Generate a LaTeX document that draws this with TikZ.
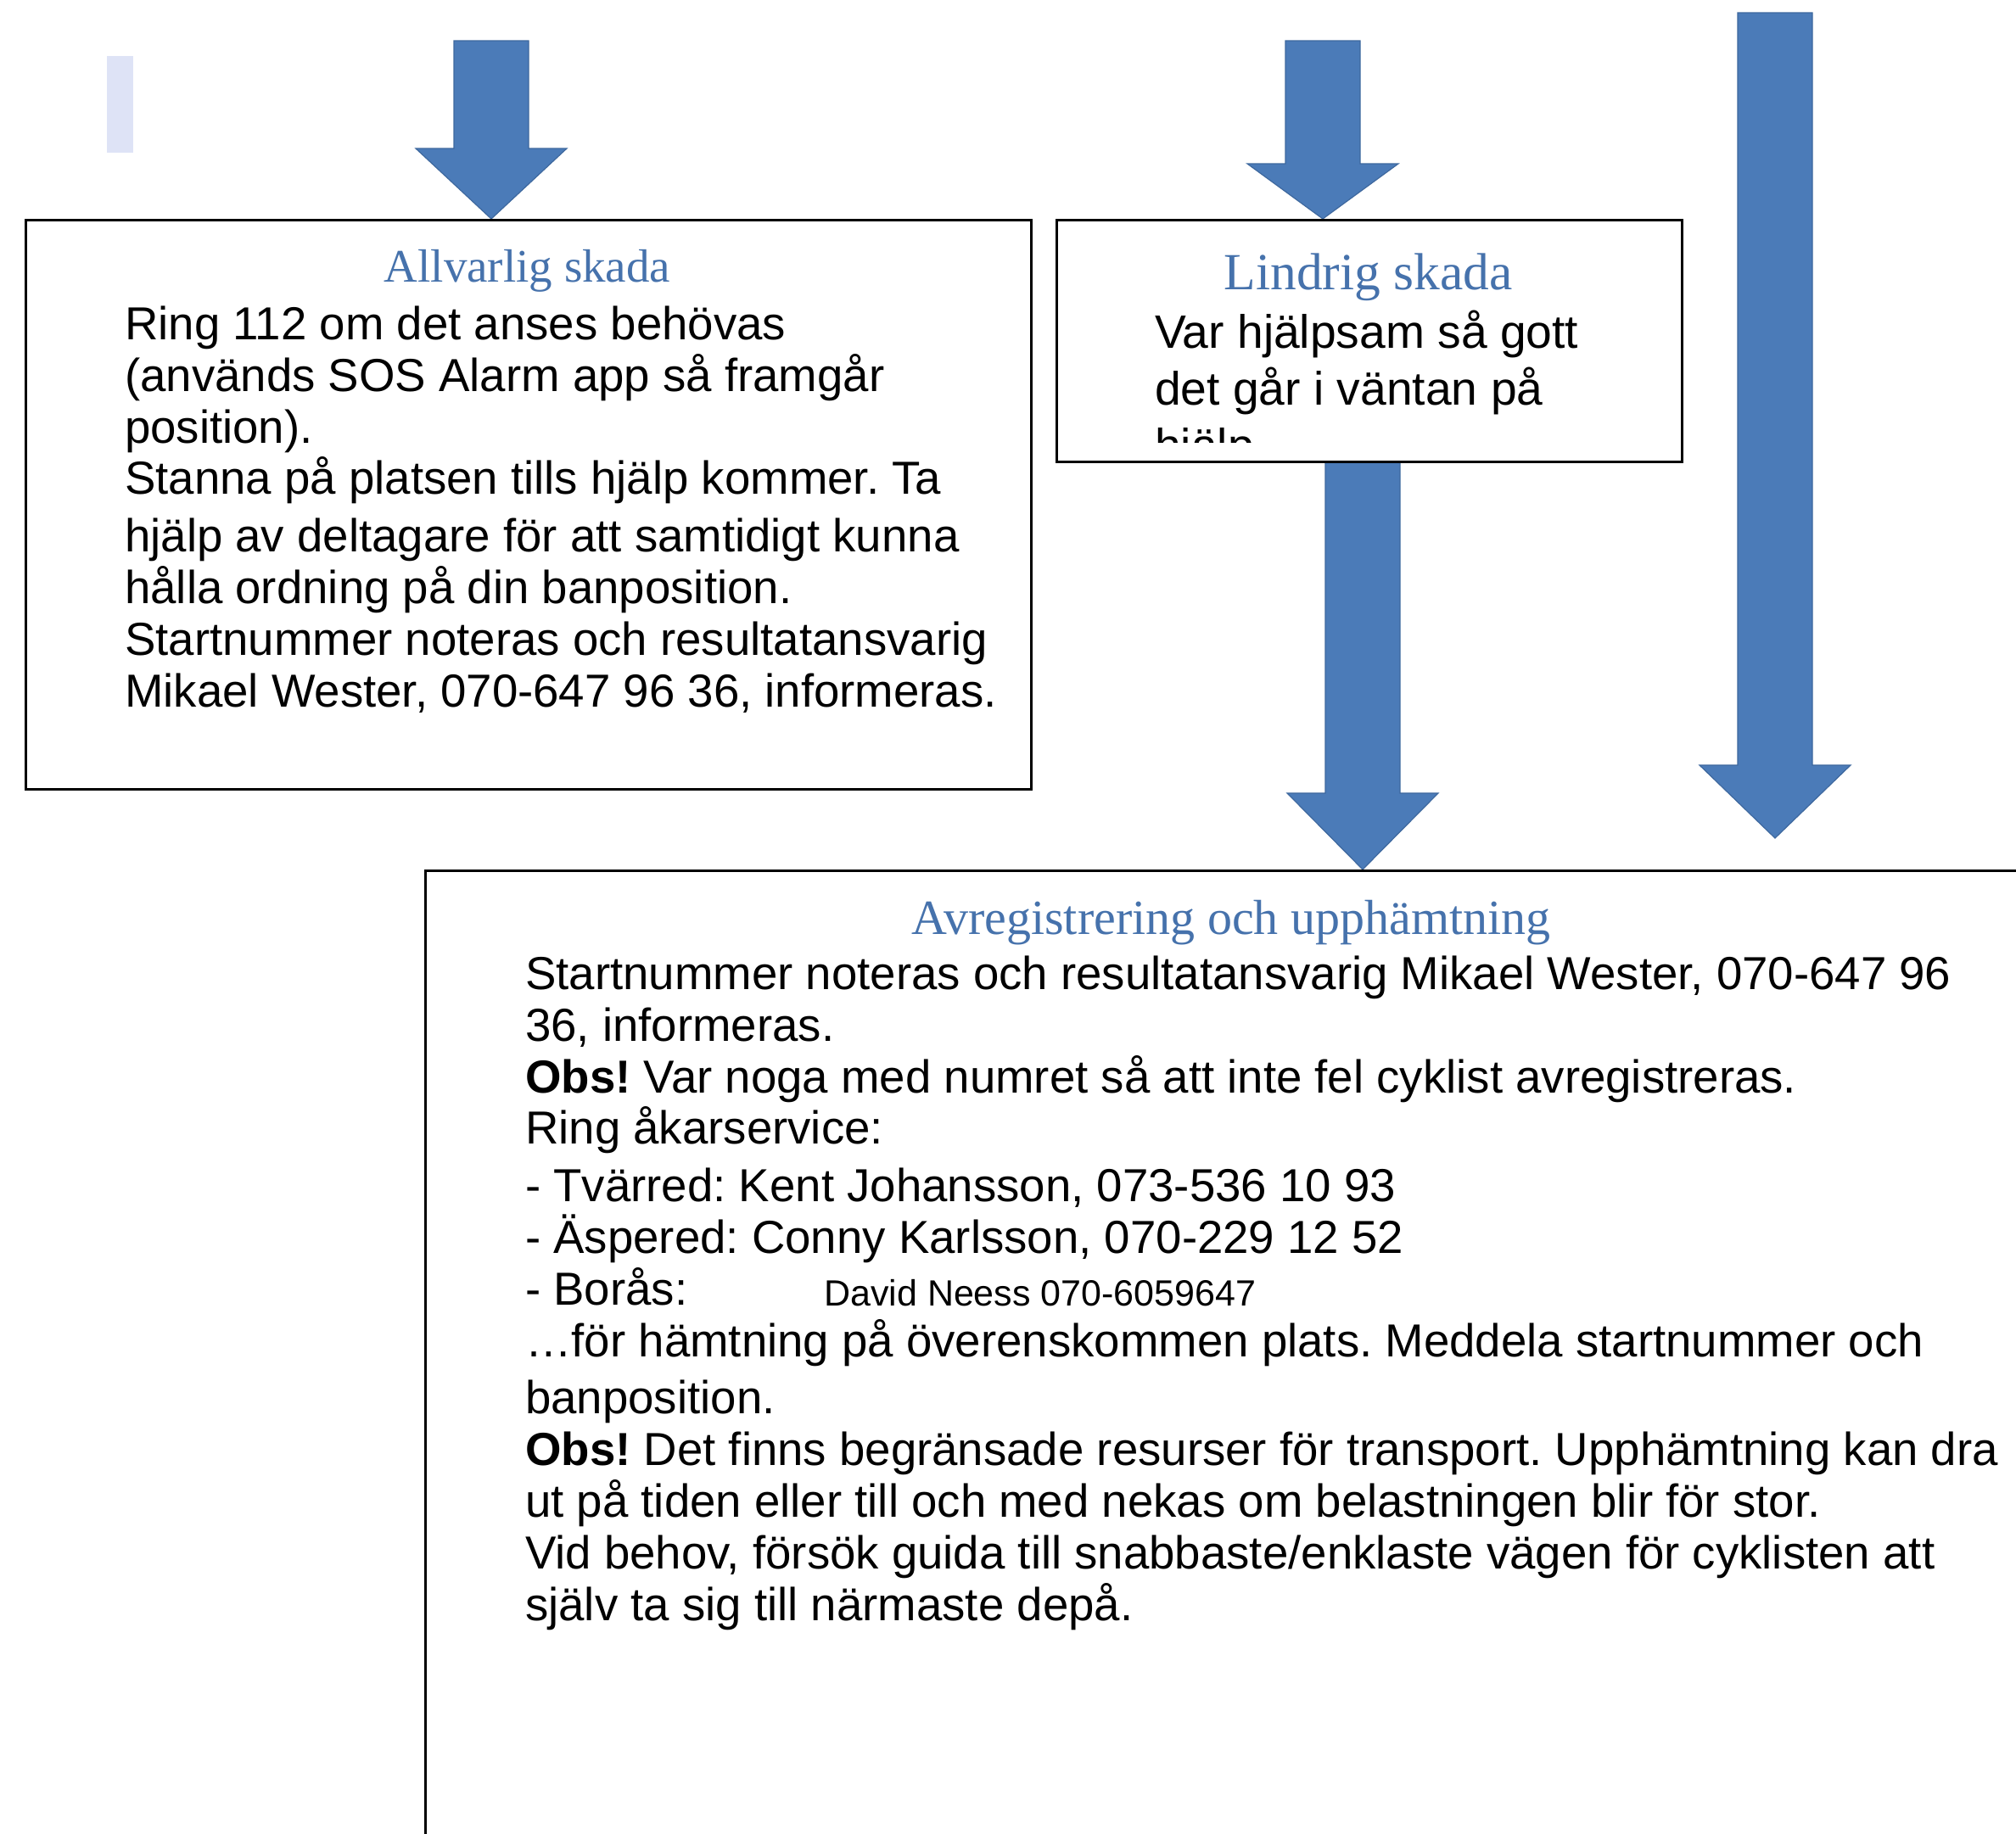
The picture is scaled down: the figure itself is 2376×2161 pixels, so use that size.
\documentclass[tikz,border=0pt]{standalone}
\usepackage{fontspec}
\setmainfont{Liberation Sans}
\newfontfamily\titlefont{Liberation Serif}
\usetikzlibrary{calc,backgrounds}
\frenchspacing
\definecolor{arrowblue}{RGB}{75,123,184}
\definecolor{arrowedge}{RGB}{62,104,158}
\definecolor{titleblue}{RGB}{70,114,172}
\definecolor{ghost}{RGB}{222,227,246}
\newcommand\blockarr[3]{%
  \path[blockarrow] ($(#1)+(-44,0)$) -- ($(#1)+(44,0)$) -- ($(#2)+(44,-#3)$) -- ($(#2)+(89,-#3)$) -- (#2) -- ($(#2)+(-89,-#3)$) -- ($(#2)+(-44,-#3)$) -- cycle;}
\begin{document}
\begin{tikzpicture}[x=1pt,y=-1pt,
  box/.style={draw=black,line width=2.8pt,fill=white,inner sep=0pt,anchor=north west},
  titletext/.style={text=titleblue,inner sep=0pt,anchor=base},
  bodytext/.style={align=left,inner sep=0pt,anchor=base west,text=black},
  blockarrow/.style={fill=arrowblue,draw=arrowedge,line width=1.2pt}]
\useasboundingbox (0,0) rectangle (2376,2161);
\clip (0,0) rectangle (2376,2161);

% boxes
\node[box,minimum width=1185pt,minimum height=671pt] (serious) at (29,258) {};
\node[box,minimum width=737pt,minimum height=285pt] (minor) at (1244,258) {};
\node[box,minimum width=1902pt,minimum height=1225pt] (dereg) at (500,1025) {};

% arrows
\coordinate (a1top) at (579,48);
\coordinate (a2top) at (1559,48);
\coordinate (a3top) at (1606,500);
\coordinate (a4top) at (2092,15);
\coordinate (a4tip) at (2092,988);
\begin{pgfonlayer}{background}
  \fill[ghost] (126,66) rectangle (157,180);
  \blockarr{a1top}{a1top |- serious.north}{83}
  \blockarr{a2top}{a2top |- minor.north}{65}
  \blockarr{a3top}{a3top |- dereg.north}{90}
  \blockarr{a4top}{a4tip}{86}
\end{pgfonlayer}

% texts (base anchor = baseline of the last line)
\node[titletext,font=\titlefont\fontsize{55}{60}\selectfont] (t1) at (621.5,332) {Allvarlig skada};
\node[bodytext,font=\fontsize{54.6}{60.7}\selectfont] (b1) at (147,833) {Ring 112 om det anses behövas\\
(används SOS Alarm app så framgår\\
position).\\
Stanna på platsen tills hjälp kommer. Ta\\[7.5pt]
hjälp av deltagare för att samtidigt kunna\\
hålla ordning på din banposition.\\
Startnummer noteras och resultatansvarig\\
Mikael Wester, 070-647 96 36, informeras.};

\node[titletext,font=\titlefont\fontsize{61.5}{66}\selectfont] (t2) at (1612.5,341) {Lindrig skada};
\begin{scope}
  \clip (1250,264) rectangle (1975,521);
  \node[bodytext,font=\fontsize{55.2}{67}\selectfont] (b2) at (1361,544) {Var hjälpsam så gott\\
  det går i väntan på\\
  hjälp};
\end{scope}

\node[titletext,font=\titlefont\fontsize{58}{62}\selectfont] (t3) at (1451,1101) {Avregistrering och upphämtning};
\node[bodytext,font=\fontsize{54.6}{60.9}\selectfont] (b3) at (619,1910) {Startnummer noteras och resultatansvarig Mikael Wester, 070-647 96\\
36, informeras.\\
\textbf{Obs!} Var noga med numret så att inte fel cyklist avregistreras.\\
Ring åkarservice:\\[6.5pt]
- Tvärred: Kent Johansson, 073-536 10 93\\
- Äspered: Conny Karlsson, 070-229 12 52\\
- Borås:\\
…för hämtning på överenskommen plats. Meddela startnummer och\\[6.5pt]
banposition.\\
\textbf{Obs!} Det finns begränsade resurser för transport. Upphämtning kan dra\\
ut på tiden eller till och med nekas om belastningen blir för stor.\\
Vid behov, försök guida till snabbaste/enklaste vägen för cyklisten att\\
själv ta sig till närmaste depå.};
\node[bodytext,font=\fontsize{43}{48}\selectfont] (david) at (971,1539) {David Neess 070-6059647};
\end{tikzpicture}
\end{document}
